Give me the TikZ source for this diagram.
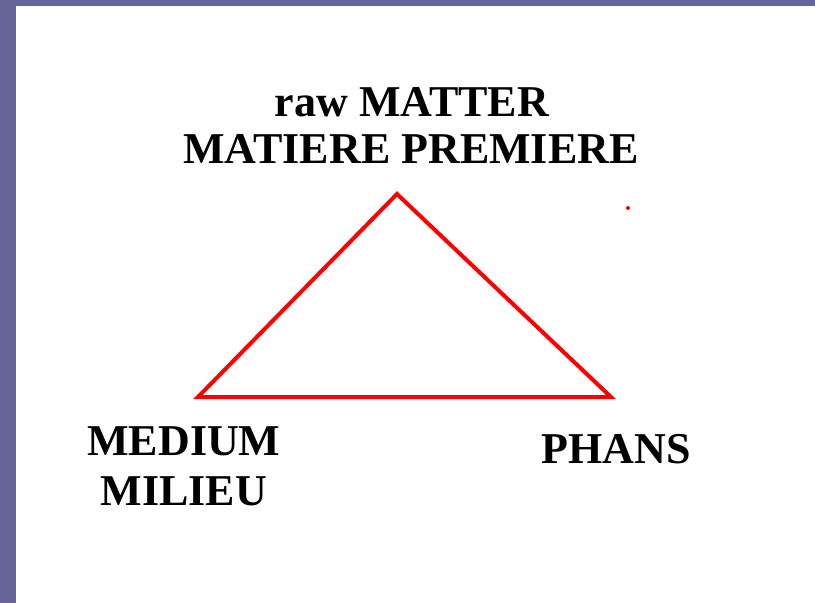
\documentclass[tikz,border=0pt]{standalone}
\usepackage{fontspec}
\setmainfont{Liberation Serif}
\definecolor{frame}{HTML}{666699}
\definecolor{tri}{HTML}{FF0000}
\tikzset{
  lbl/.style={font=\fontsize{44}{48}\selectfont\bfseries, inner sep=0pt, anchor=base},
  edge/.style={draw=tri, line width=4pt, line join=miter}
}
\begin{document}
\begin{tikzpicture}[x=1pt,y=-1pt]
\useasboundingbox (0,0) rectangle (815,603);
\fill[frame] (0,0) rectangle (815,603);
\fill[white] (16,6) rectangle (815,603);
\node[lbl] (raw) at (412,116) {raw MATTER};
\node[lbl] (mat) at (411,163) {MATIERE PREMIERE};
\node[lbl] (medium) at (184,455) {MEDIUM};
\node[lbl] (milieu) at (184,505) {MILIEU};
\node[lbl] (phans) at (616,463) {PHANS};
\coordinate (top) at (397,194);
\coordinate (left) at (198,397);
\coordinate (right) at (611,397);
\draw[edge] (top) -- (right) -- (left) -- cycle;
\fill[tri] (628,208) circle (2);
\end{tikzpicture}
\end{document}
